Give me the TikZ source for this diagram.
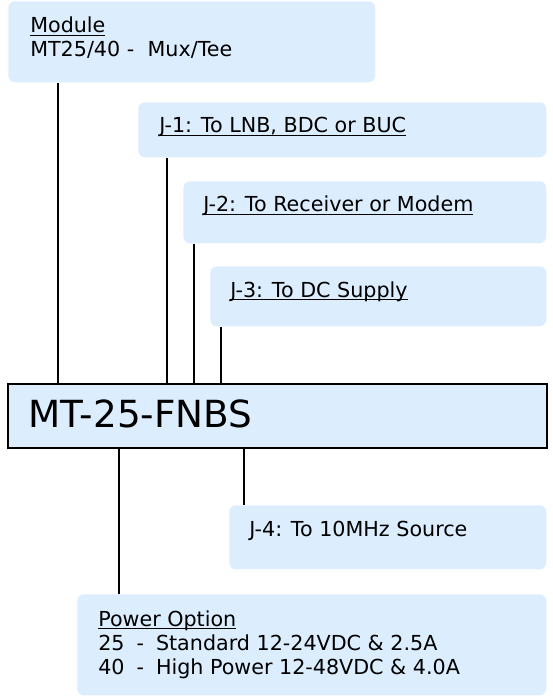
\documentclass[tikz,border=0pt]{standalone}
\usepackage{fontspec}
\setmainfont{DejaVu Sans}
\usetikzlibrary{calc}

\definecolor{boxblue}{RGB}{220,238,254}
% underline at a fixed depth, descenders may cross it
\newcommand{\lineunder}[1]{\setbox0\hbox{#1}\rlap{\rule[-2.2pt]{\wd0}{0.9pt}}\box0}

\tikzset{
  infobox/.style={fill=boxblue, rounded corners=5pt, anchor=north west, inner sep=0pt},
  partbox/.style={fill=boxblue, draw=black, line width=1.5pt, anchor=north west, inner sep=0pt},
  infotext/.style={anchor=base west, inner sep=0pt, font=\fontsize{15.5}{18}\selectfont},
  lead/.style={line width=1pt}
}

\begin{document}
\begin{tikzpicture}[x=0.75pt,y=-0.75pt]
    \useasboundingbox (0,0) rectangle (552,698);

    % Info boxes above and below the part
    \node[infobox, minimum width=275.25pt, minimum height=60.75pt] (mod) at (8,1) {};
    \node[infobox, minimum width=306pt, minimum height=41.25pt] (jone) at (138,102) {};
    \node[infobox, minimum width=272.25pt, minimum height=46.5pt] (jtwo) at (183,181) {};
    \node[infobox, minimum width=252pt, minimum height=45pt] (jthree) at (210,266) {};
    \node[infobox, minimum width=237.75pt, minimum height=48pt] (jfour) at (229,505) {};
    \node[infobox, minimum width=351.75pt, minimum height=75.75pt] (pwr) at (77,594) {};

    % Part number box
    \node[partbox, minimum width=404.25pt, minimum height=48pt] (part) at (7,383) {};

    % Leads from the boxes to the part
    \coordinate (modlead) at ($(mod.south west)+(50,0)$);
    \coordinate (jonelead) at ($(jone.south west)+(29,0)$);
    \coordinate (jtwolead) at ($(jtwo.south west)+(11,0)$);
    \coordinate (jthreelead) at ($(jthree.south west)+(11,0)$);
    \coordinate (jfourlead) at ($(jfour.north west)+(15,0)$);
    \coordinate (pwrlead) at ($(pwr.north west)+(42,0)$);
    \draw[lead] (modlead) -- (modlead |- part.north);
    \draw[lead] (jonelead) -- (jonelead |- part.north);
    \draw[lead] (jtwolead) -- (jtwolead |- part.north);
    \draw[lead] (jthreelead) -- (jthreelead |- part.north);
    \draw[lead] (part.south -| jfourlead) -- (jfourlead);
    \draw[lead] (part.south -| pwrlead) -- (pwrlead);

    % Texts
    \node[infotext] (modtitle) at (30,33) {\lineunder{Module}};
    \node[infotext] (modname) at (30,57) {MT25/40 -\hspace{10pt}Mux/Tee};
    \node[infotext] (jonetext) at (159,133) {\lineunder{J-1: To LNB, BDC or BUC}};
    \node[infotext] (jtwotext) at (203,212) {\lineunder{J-2: To Receiver or Modem}};
    \node[infotext] (jthreetext) at (230,297) {\lineunder{J-3: To DC Supply}};
    \node[infotext, font=\fontsize{28}{32}\selectfont] (parttext) at (28,427) {MT-25-FNBS};
    \node[infotext] (jfourtext) at (249,536) {J-4: To 10MHz Source};
    \node[infotext] (pwrtitle) at (98,626) {\lineunder{Power Option}};
    \node[infotext] (pwrstd) at (98,650) {25\hspace{9pt}-\hspace{9pt}Standard 12-24VDC \& 2.5A};
    \node[infotext] (pwrhigh) at (98,674) {40\hspace{9pt}-\hspace{9pt}High Power 12-48VDC \& 4.0A};
\end{tikzpicture}
\end{document}
